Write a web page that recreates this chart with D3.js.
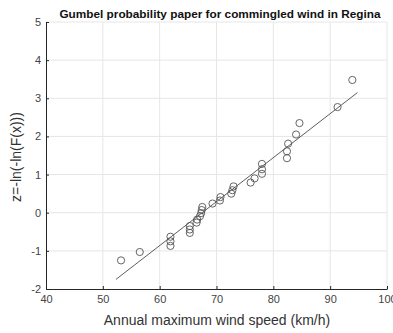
<!DOCTYPE html>
<html>
<head>
<meta charset="utf-8">
<script src="https://cdn.jsdelivr.net/npm/d3@7"></script>
<style>
  body { margin: 0; background: #fff; }
  svg { display: block; font-family: "Liberation Sans", Arial, sans-serif; }
</style>
</head>
<body>
<svg width="393" height="333"></svg>
<script>
// Annual maximum wind speeds (km/h), sorted, with their reduced variate z
const windSpeed = [53.2, 56.5, 61.9, 61.9, 61.9, 65.3, 65.3, 65.3, 66.5, 66.6,
  67.1, 67.3, 67.4, 67.5, 69.3, 70.6, 70.7, 72.6, 72.8, 73.0,
  76.0, 76.7, 78.0, 78.0, 78.0, 82.4, 82.4, 82.6, 84.0, 84.6, 91.3, 93.9]
const reducedZ = [-1.25, -1.03, -0.87, -0.75, -0.63, -0.53, -0.44, -0.35, -0.26, -0.18,
  -0.09, -0.01, 0.07, 0.15, 0.24, 0.32, 0.41, 0.50, 0.59, 0.69,
  0.79, 0.90, 1.02, 1.14, 1.28, 1.43, 1.61, 1.81, 2.05, 2.35, 2.77, 3.48]

// fitted line end points
const fitX = [52.3, 94.8]
const fitZ = [-1.75, 3.15]

const xTicks = [40, 50, 60, 70, 80, 90, 100]
const yTicks = [-2, -1, 0, 1, 2, 3, 4, 5]

const svg = d3.select('svg')
const plotLeft = 46, plotRight = 387, plotTop = 22, plotBottom = 289

const x = d3.scaleLinear().domain([40, 100]).range([plotLeft, plotRight])
const y = d3.scaleLinear().domain([-2, 5]).range([plotBottom, plotTop])

// grid (includes the light top / right box edges)
svg.append('g')
  .selectAll('line')
  .data(xTicks.slice(1))
  .join('line')
  .attr('x1', (d) => x(d)).attr('x2', (d) => x(d))
  .attr('y1', plotTop).attr('y2', plotBottom)
  .attr('stroke', '#e6e6e6')
svg.append('g')
  .selectAll('line')
  .data(yTicks.slice(1))
  .join('line')
  .attr('y1', (d) => y(d)).attr('y2', (d) => y(d))
  .attr('x1', plotLeft).attr('x2', plotRight)
  .attr('stroke', '#e6e6e6')

// axes (MATLAB style: ticks inward)
const xAxis = svg.append('g')
  .attr('transform', `translate(0,${plotBottom})`)
  .call(d3.axisBottom(x).tickValues(xTicks).tickSizeInner(-3).tickSizeOuter(0).tickPadding(6))
const yAxis = svg.append('g')
  .attr('transform', `translate(${plotLeft},0)`)
  .call(d3.axisLeft(y).tickValues(yTicks).tickSizeInner(-3).tickSizeOuter(0).tickPadding(5))
;[xAxis, yAxis].forEach((g) => {
  g.select('.domain').attr('stroke', '#262626').attr('stroke-width', 1)
  g.selectAll('.tick line').attr('stroke', '#262626')
  g.selectAll('.tick text')
    .attr('fill', '#444')
    .style('font-size', '11px')
    .style('font-family', '"Liberation Sans", Arial, sans-serif')
})
// plain hyphen minus like the reference
yAxis.selectAll('.tick text').text((d) => String(d))

// fitted line
svg.append('line')
  .attr('x1', x(fitX[0])).attr('y1', y(fitZ[0]))
  .attr('x2', x(fitX[1])).attr('y2', y(fitZ[1]))
  .attr('stroke', '#333')
  .attr('stroke-width', 0.8)

// data points
svg.append('g')
  .selectAll('circle')
  .data(windSpeed)
  .join('circle')
  .attr('cx', (d) => x(d))
  .attr('cy', (d, i) => y(reducedZ[i]))
  .attr('r', 3.6)
  .attr('fill', 'none')
  .attr('stroke', '#555')
  .attr('stroke-width', 0.9)

// title and labels
svg.append('text')
  .attr('x', 220).attr('y', 18)
  .attr('text-anchor', 'middle')
  .style('font-size', '11.8px')
  .style('font-weight', 'bold')
  .attr('fill', '#111')
  .text('Gumbel probability paper for commingled wind in Regina')

svg.append('text')
  .attr('x', 217).attr('y', 325)
  .attr('text-anchor', 'middle')
  .style('font-size', '14px')
  .attr('fill', '#333')
  .text('Annual maximum wind speed (km/h)')

svg.append('text')
  .attr('transform', 'translate(21,157) rotate(-90)')
  .attr('text-anchor', 'middle')
  .style('font-size', '14px')
  .attr('fill', '#333')
  .text('z=-ln(-ln(F(x)))')
</script>
</body>
</html>
